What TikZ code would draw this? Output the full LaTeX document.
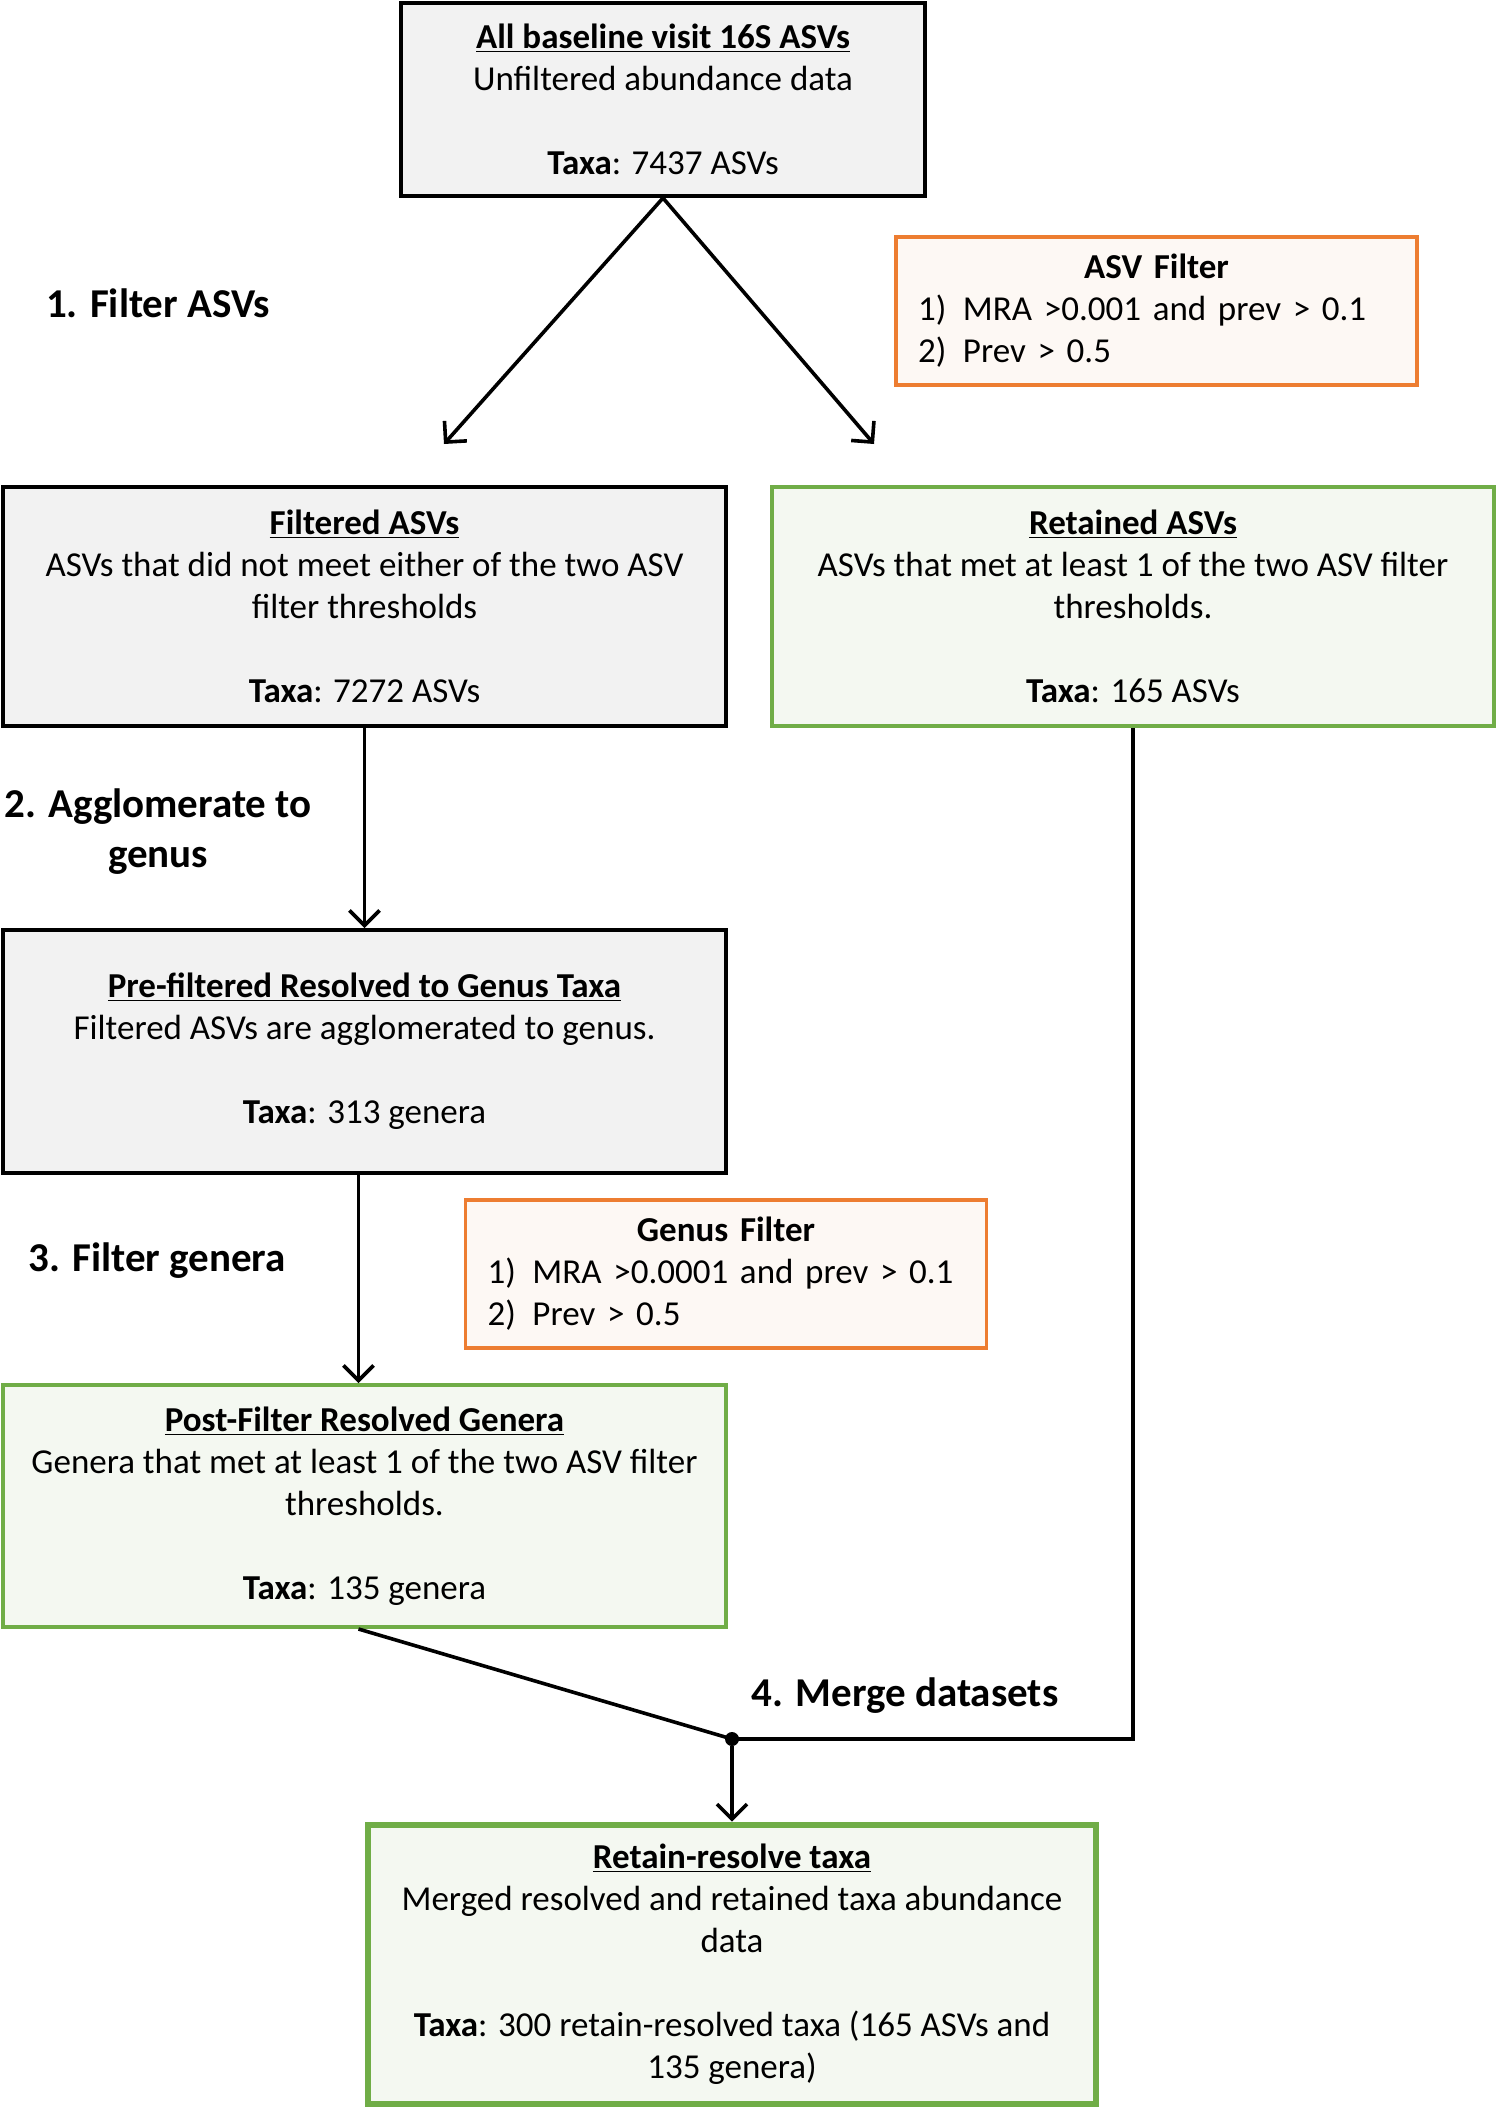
\documentclass[tikz,border=0pt]{standalone}
\usepackage{fontspec}
\setmainfont{Carlito}
\usetikzlibrary{arrows.meta,positioning,calc}

\definecolor{boxgrey}{HTML}{F2F2F2}
\definecolor{boxgreen}{HTML}{70AD47}
\definecolor{greenfill}{HTML}{F4F8F1}
\definecolor{filtorange}{HTML}{ED7D31}
\definecolor{filtfill}{HTML}{FDF8F4}

\begin{document}
\begin{tikzpicture}[x=0.5pt, y=-0.5pt,
    >={Straight Barb[length=7.5pt,width=15pt]},
    box/.style={draw, line width=2pt, align=center, inner sep=0pt, font=\fontsize{17.5}{21}\selectfont},
    greybox/.style={box, fill=boxgrey},
    greenbox/.style={box, draw=boxgreen, fill=greenfill},
    filterbox/.style={box, draw=filtorange, fill=filtfill, line width=1.8pt, align=left, inner xsep=11pt, text width=238.5pt, minimum height=74pt},
    steplab/.style={font=\fontsize{20.5}{25}\selectfont\bfseries, align=center, inner sep=0pt},
    dot/.style={circle, fill, inner sep=0pt, minimum size=7pt},
    flow/.style={->, line width=1.8pt},
    link/.style={line width=1.8pt}]
  \useasboundingbox[fill=white] (0,0) rectangle (1498,2108);
  % boxes
  \node[greybox, minimum width=262pt, minimum height=96.5pt] (top) at (663,99.5)
    {\underline{\textbf{All baseline visit 16S ASVs}}\\Unfiltered abundance data\\[21pt]\textbf{Taxa}: 7437 ASVs};
  \node[filterbox] (asvf) at (1156.5,311)
    {\makebox[\linewidth]{\textbf{ASV Filter}}\\\makebox[22.5pt][l]{1)}MRA >0.001 and prev > 0.1\\\makebox[22.5pt][l]{2)}Prev > 0.5};
  \node[greybox, minimum width=361.5pt, minimum height=119.5pt] (filt) at (364.5,606.5)
    {\underline{\textbf{Filtered ASVs}}\\ASVs that did not meet either of the two ASV\\filter thresholds\\[21pt]\textbf{Taxa}: 7272 ASVs};
  \node[greenbox, minimum width=361pt, minimum height=119.5pt] (ret) at (1133,606.5)
    {\underline{\textbf{Retained ASVs}}\\ASVs that met at least 1 of the two ASV filter\\thresholds.\\[21pt]\textbf{Taxa}: 165 ASVs};
  \node[greybox, minimum width=361.5pt, minimum height=121.5pt] (pre) at (364.5,1051.5)
    {\underline{\textbf{Pre-filtered Resolved to Genus Taxa}}\\Filtered ASVs are agglomerated to genus.\\[21pt]\textbf{Taxa}: 313 genera};
  \node[filterbox] (genf) at (726,1274)
    {\makebox[\linewidth]{\textbf{Genus Filter}}\\\makebox[22.5pt][l]{1)}MRA >0.0001 and prev > 0.1\\\makebox[22.5pt][l]{2)}Prev > 0.5};
  \node[greenbox, minimum width=361.5pt, minimum height=121pt] (post) at (364.5,1506)
    {\underline{\textbf{Post-Filter Resolved Genera}}\\Genera that met at least 1 of the two ASV filter\\thresholds.\\[21pt]\textbf{Taxa}: 135 genera};
  \node[greenbox, line width=3.4pt, minimum width=364pt, minimum height=139.5pt] (final) at (732,1964.5)
    {\underline{\textbf{Retain-resolve taxa}}\\Merged resolved and retained taxa abundance\\data\\[21pt]\textbf{Taxa}: 300 retain-resolved taxa (165 ASVs and\\135 genera)};
  % step labels
  \node[steplab] (s1) at (158,303) {1. Filter ASVs};
  \node[steplab] (s2) at (158,832) {2. Agglomerate to\\genus};
  \node[steplab] (s3) at (157,1261) {3. Filter genera};
  \node[steplab] (s4) at (905,1696) {4. Merge datasets};
  % connectors
  \coordinate (a1) at (444,444);
  \coordinate (a2) at (874,444);
  \node[dot] (mj) at (732,1739) {};
  \draw[flow] (top.south) -- (a1);
  \draw[flow] (top.south) -- (a2);
  \draw[flow] (filt) -- (pre);
  \draw[flow] ([xshift=-3pt]pre.south) -- ([xshift=-3pt]post.north);
  \draw[link] ([xshift=-3pt]post.south) -- (mj.center);
  \draw[link] (ret.south) |- (mj.center);
  \draw[flow] (mj) -- (final);
\end{tikzpicture}
\end{document}
